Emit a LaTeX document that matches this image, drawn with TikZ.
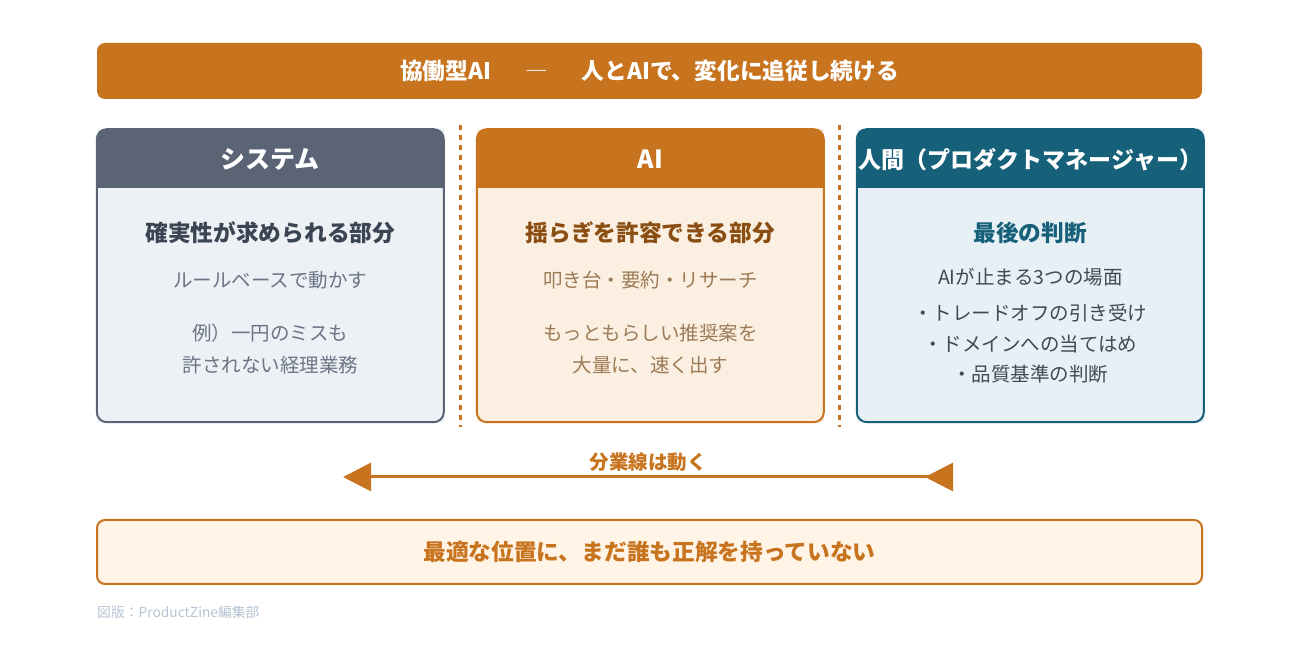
\documentclass[tikz,border=0pt]{standalone}
\usepackage{fontspec}
\setmainfont{Noto Sans CJK JP}
\usepackage{tikz}
\usetikzlibrary{shapes,arrows.meta,positioning}
\definecolor{orng}{HTML}{C8731D}
\definecolor{slate}{HTML}{5B6474}
\definecolor{teal}{HTML}{17607A}
\definecolor{sysbg}{HTML}{EDF1F6}
\definecolor{aibg}{HTML}{FBEFE1}
\definecolor{humbg}{HTML}{E7F0F5}
\definecolor{notebg}{HTML}{FFF4E6}
\definecolor{sysdark}{HTML}{3B4452}
\definecolor{systext}{HTML}{6B7585}
\definecolor{aidark}{HTML}{8A4E12}
\definecolor{aitext}{HTML}{9C7A55}
\definecolor{humtext}{HTML}{3D4B55}
\definecolor{credit}{HTML}{B5C3D3}
\tikzstyle{banner} = [rectangle, rounded corners=8pt, minimum width=1105pt, minimum height=56pt, text centered, fill=orng, text=white, font=\fontsize{22.7}{27}\selectfont\bfseries]
\tikzstyle{note} = [rectangle, rounded corners=8pt, minimum width=1105pt, minimum height=64pt, text centered, fill=notebg, draw=orng, line width=2pt, text=orng, font=\fontsize{22.7}{27}\selectfont\bfseries]
\tikzstyle{card} = [rectangle, minimum width=347pt, minimum height=293pt, outer sep=0pt]
\tikzstyle{frame} = [line width=2pt, rounded corners=10pt]
\tikzstyle{head} = [text=white, font=\fontsize{25}{29}\selectfont\bfseries]
\tikzstyle{lead} = [font=\fontsize{22.7}{27}\selectfont\bfseries]
\tikzstyle{body} = [align=center, font=\fontsize{19.5}{32}\selectfont]
\tikzstyle{sep} = [orng, line width=2.5pt, dash pattern=on 5pt off 5pt]
\tikzstyle{arrow} = [orng, line width=3pt, {Triangle[reversed,length=28pt,width=28pt]}-{Triangle[length=28pt,width=28pt]}]

\begin{document}
\begin{tikzpicture}[x=1pt, y=1pt]
        \useasboundingbox (0,0) rectangle (1300,650);
        \node (title) [banner] at (649.5,579) {協働型AI\hspace{1.5em}{\mdseries ―}\hspace{1.5em}人とAIで、変化に追従し続ける};
        \node (sys) [card, fill=sysbg, below=30pt of title.south west, anchor=north west] {};
        \node (ai) [card, fill=aibg, right=33pt of sys] {};
        \node (hum) [card, fill=humbg, right=33pt of ai] {};
        % headers
        \begin{scope}
            \clip [rounded corners=10pt] (sys.north west) rectangle (sys.south east);
            \fill [slate] (sys.north west) rectangle ([yshift=-59pt]sys.north east);
        \end{scope}
        \begin{scope}
            \clip [rounded corners=10pt] (ai.north west) rectangle (ai.south east);
            \fill [orng] (ai.north west) rectangle ([yshift=-59pt]ai.north east);
        \end{scope}
        \begin{scope}
            \clip [rounded corners=10pt] (hum.north west) rectangle (hum.south east);
            \fill [teal] (hum.north west) rectangle ([yshift=-59pt]hum.north east);
        \end{scope}
        \draw [frame, slate] (sys.north west) rectangle (sys.south east);
        \draw [frame, orng] (ai.north west) rectangle (ai.south east);
        \draw [frame, teal] (hum.north west) rectangle (hum.south east);
        % texts
        \node (syshead) [head] at ([yshift=-30pt]sys.north) {システム};
        \node (sysleadtxt) [lead, text=sysdark] at ([yshift=-104pt]sys.north) {確実性が求められる部分};
        \node (sysrule) [body, text=systext] at ([yshift=-151pt]sys.north) {ルールベースで動かす};
        \node (sysex) [body, text=systext] at ([yshift=-220pt]sys.north) {例）一円のミスも\\許されない経理業務};
        \node (aihead) [head] at ([yshift=-30pt]ai.north) {AI};
        \node (aileadtxt) [lead, text=aidark] at ([yshift=-104pt]ai.north) {揺らぎを許容できる部分};
        \node (aitask) [body, text=aitext] at ([yshift=-151pt]ai.north) {叩き台・要約・リサーチ};
        \node (aiex) [body, text=aitext] at ([yshift=-220pt]ai.north) {もっともらしい推奨案を\\大量に、速く出す};
        \node (humhead) [head, font=\fontsize{23}{27}\selectfont\bfseries] at ([yshift=-30pt]hum.north) {人間（プロダクトマネージャー）};
        \node (humleadtxt) [lead, text=teal] at ([yshift=-104pt]hum.north) {最後の判断};
        \node (humstop) [body, text=humtext] at ([yshift=-148pt]hum.north) {AIが止まる3つの場面};
        \node (humlist) [body, text=humtext, font=\fontsize{19.5}{30.5}\selectfont] at ([yshift=-214.5pt]hum.north) {・トレードオフの引き受け\\・ドメインへの当てはめ\\・品質基準の判断};
        % separators
        \coordinate (sepa1) at (460.5,525);
        \coordinate (sepa2) at (460.5,223);
        \coordinate (sepb1) at (839.5,525);
        \coordinate (sepb2) at (839.5,223);
        \draw [sep] (sepa1) -- (sepa2);
        \draw [sep] (sepb1) -- (sepb2);
        % moving line
        \coordinate (shiftR) at (953,173);
        \coordinate (shiftL) at (343,173);
        \draw [arrow] (shiftR) -- node[above=1pt, text=orng, font=\fontsize{19.5}{23}\selectfont\bfseries] {分業線は動く} (shiftL);
        \node (answer) [note] at (649.5,98) {最適な位置に、まだ誰も正解を持っていない};
        \node (src) [anchor=west, inner sep=0pt, text=credit, font=\fontsize{13.8}{16}\selectfont] at (97,38) {図版：ProductZine編集部};
\end{tikzpicture}
\end{document}
